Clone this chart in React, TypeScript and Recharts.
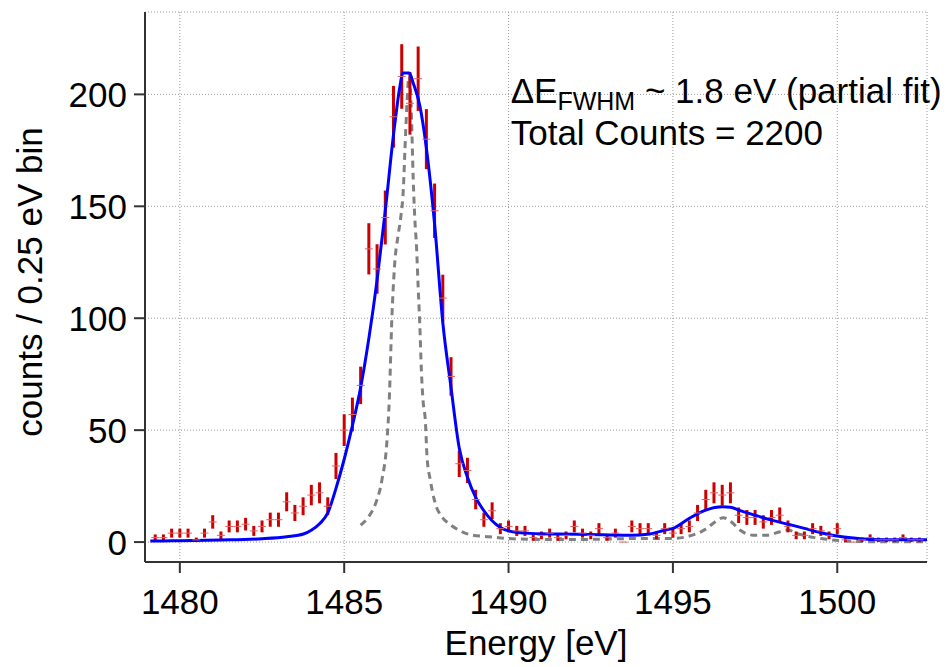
import React from 'react';
import { ComposedChart, Scatter, Line, XAxis, YAxis, CartesianGrid, ErrorBar } from 'recharts';

// Measured spectrum: 0.25 eV bins
const binStart = 1479.25;
const binWidth = 0.25;
const counts: number[] = [
  2, 2, 4, 4, 4, 1, 4, 9, 3, 7, 7, 8, 5, 7, 10, 10, 18, 13, 16, 21, 22, 16, 34, 50,
  57, 70, 131, 122, 145, 190, 208, 196, 207, 180, 148, 109, 74, 35, 32, 19,
  10, 14, 6, 7, 5, 5, 2, 3, 4, 2, 3, 7, 4, 3, 6, 2, 4, 0, 7, 6,
  6, 3, 6, 4, 6, 7, 13, 19, 22, 21, 22, 12, 11, 11, 9, 11, 12, 7, 3, 3,
  6, 5, 3, 6, 1, 0, 1, 2, 1, 1, 1, 2, 1, 1,
];

// Blue fit curve
const fitEnergy: number[] = [
  1479.1, 1479.24, 1480.0, 1481.25, 1482.5, 1483.25, 1483.76, 1484.01, 1484.26, 1484.5, 1484.75,
  1485.0, 1485.25, 1485.5, 1485.75, 1486.0, 1486.25, 1486.5, 1486.7, 1486.78, 1486.98, 1487.1,
  1487.3, 1487.5, 1487.75, 1488.0, 1488.25, 1488.5, 1488.75, 1489.0, 1489.25, 1489.5, 1489.75,
  1490.0, 1490.5, 1491.5, 1492.5, 1493.5, 1494.0, 1494.3, 1494.8, 1495.0, 1495.5, 1496.0,
  1496.5, 1496.75, 1497.0, 1497.5, 1498.0, 1498.5, 1499.0, 1499.5, 1500.0, 1500.5, 1501.0,
  1502.0, 1502.73,
];
const fitCounts: number[] = [
  0.45, 0.45, 0.6, 0.9, 1.5, 2.4, 3.6, 5.4, 8.3, 13, 24,
  37, 52, 69, 91, 117, 148, 182, 204, 209.5, 209.5, 205,
  195, 176, 142, 98, 69, 42, 29, 20, 14, 9.5, 6.5,
  5, 4, 3.6, 3.4, 3.1, 3.2, 3.6, 5.5, 6.1, 10.6, 14.3,
  15.8, 15.6, 14.3, 12, 9.8, 8, 6.1, 4.2, 2.7, 1.8, 1.2,
  1.0, 1.0,
];

// Gray dashed component curve
const compEnergy: number[] = [
  1485.5, 1485.75, 1485.95, 1486.15, 1486.3, 1486.37, 1486.45, 1486.53, 1486.65, 1486.72,
  1486.8, 1486.85, 1486.9, 1486.95, 1486.98, 1487.0, 1487.05, 1487.1, 1487.15, 1487.2,
  1487.25, 1487.3, 1487.35, 1487.4, 1487.47, 1487.52, 1487.62, 1487.77, 1487.97, 1488.18,
  1488.48, 1488.89, 1489.4, 1490.0, 1490.9, 1492.4, 1493.4, 1494.4, 1495.0, 1495.5,
  1496.03, 1496.28, 1496.53, 1496.78, 1497.04, 1497.44, 1497.85, 1498.26, 1498.5, 1498.77,
  1499.27, 1499.7, 1500.1, 1500.5, 1501.0, 1502.73,
];
const compCounts: number[] = [
  7.6, 11.5, 17, 28, 45, 63, 100, 123, 138, 145,
  158, 176, 193, 206, 208, 206, 188, 162, 144, 132,
  114, 97, 76, 63, 54, 38, 27.7, 17.3, 11.3, 8.3,
  5.4, 3.1, 2.4, 1.6, 1.2, 1.2, 1.5, 1.6, 1.6, 2.7,
  6.1, 9, 10.9, 9, 5.4, 3.1, 3.1, 4.6, 5.4, 3.9,
  2.1, 1.2, 0.6, 0.3, 0.2, 0.2,
];

const xTicks = [1480, 1485, 1490, 1495, 1500];
const yTicks = [0, 50, 100, 150, 200];
const xDomain: [number, number] = [1478.94, 1502.73];
const yDomain: [number, number] = [-8.9, 236.8];

const measured = counts.map((c, i) => ({ x: binStart + i * binWidth, y: c, err: Math.sqrt(c) }));
const fitData = fitEnergy.map((e, i) => ({ x: e, y: fitCounts[i] }));
const compData = compEnergy.map((e, i) => ({ x: e, y: compCounts[i] }));

const FONT = '"Liberation Sans", Arial, Helvetica, sans-serif';
const W = 935;
const H = 655;

const CenterMark = (props: any) => {
  const { cx, cy } = props;
  if (cx == null || cy == null) return null;
  return <line x1={cx - 4} x2={cx + 4} y1={cy} y2={cy} stroke="#e06060" strokeWidth={1} />;
};

const YTitle = (props: any) => {
  const vb = props.viewBox || {};
  const cy = (vb.y ?? 0) + (vb.height ?? 0) / 2 - 5;
  const cx = 34;
  return (
    <text
      x={cx}
      y={cy}
      transform={`rotate(-90 ${cx} ${cy})`}
      textAnchor="middle"
      fontSize={35}
      fontFamily={FONT}
      fill="#000"
    >
      counts / 0.25 eV bin
    </text>
  );
};

export default function App() {
  return (
    <div style={{ position: 'relative', width: W, height: H, fontFamily: FONT }}>
      <ComposedChart
        width={W}
        height={H}
        margin={{ top: 4, right: 16, left: 0, bottom: 0 }}
        style={{ fontFamily: FONT }}
      >
        <CartesianGrid stroke="#9a9a9a" strokeDasharray="1 2" strokeWidth={1} />
        <XAxis
          type="number"
          dataKey="x"
          domain={xDomain}
          ticks={xTicks}
          allowDataOverflow
          height={101}
          tickSize={11}
          tickMargin={16}
          axisLine={{ stroke: '#333', strokeWidth: 2 }}
          tickLine={{ stroke: '#333', strokeWidth: 2 }}
          tick={{ fontSize: 35, fill: '#000', fontFamily: FONT }}
          label={{ value: 'Energy [eV]', position: 'insideBottom', offset: 8, fontSize: 35, fill: '#000', fontFamily: FONT }}
        />
        <YAxis
          type="number"
          dataKey="y"
          domain={yDomain}
          ticks={yTicks}
          allowDataOverflow
          width={137}
          tickSize={11}
          tickMargin={7}
          axisLine={{ stroke: '#333', strokeWidth: 2 }}
          tickLine={{ stroke: '#333', strokeWidth: 2 }}
          tick={{ fontSize: 35, fill: '#000', fontFamily: FONT }}
          label={<YTitle />}
        />
        <Line
          data={compData}
          dataKey="y"
          type="monotone"
          stroke="#808080"
          strokeWidth={3}
          strokeDasharray="7 5"
          dot={false}
          activeDot={false}
          isAnimationActive={false}
        />
        <Scatter
          data={measured}
          dataKey="y"
          fill="#cc0000"
          shape={<CenterMark />}
          isAnimationActive={false}
        >
          <ErrorBar dataKey="err" direction="y" width={0} stroke="#cc0000" strokeWidth={3} isAnimationActive={false} />
        </Scatter>
        <Line
          data={fitData}
          dataKey="y"
          type="monotone"
          stroke="#0000ff"
          strokeWidth={3}
          dot={false}
          activeDot={false}
          isAnimationActive={false}
        />
      </ComposedChart>
      <svg
        width={W}
        height={H}
        style={{ position: 'absolute', left: 0, top: 0, pointerEvents: 'none' }}
      >
        <text x={502.7} y={95} fontSize={35} fontFamily={FONT} fill="#000">
          ΔE
          <tspan fontSize={25} dy={7}>FWHM</tspan>
          <tspan dy={-7}> ~ 1.8 eV (partial fit)</tspan>
        </text>
        <text x={502.7} y={137} fontSize={35} fontFamily={FONT} fill="#000">
          Total Counts = 2200
        </text>
      </svg>
    </div>
  );
}
